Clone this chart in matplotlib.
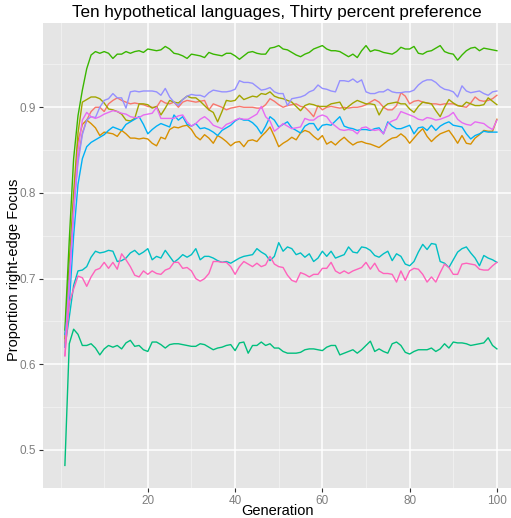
import matplotlib
matplotlib.use("Agg")
import matplotlib.pyplot as plt
import numpy as np

plt.rcParams['font.family'] = ['Liberation Sans', 'DejaVu Sans']

generations = list(range(1, 101))

lang_red = [0.625, 0.700, 0.780, 0.840, 0.870, 0.885, 0.895, 0.900, 0.900, 0.895,
            0.904, 0.908, 0.911, 0.908, 0.906, 0.904, 0.905, 0.904, 0.903, 0.901,
            0.900, 0.900, 0.908, 0.905, 0.904, 0.906, 0.900, 0.906, 0.908, 0.907,
            0.906, 0.907, 0.908, 0.897, 0.904, 0.902, 0.900, 0.897, 0.899, 0.900,
            0.901, 0.900, 0.900, 0.900, 0.899, 0.899, 0.903, 0.910, 0.907, 0.903,
            0.900, 0.902, 0.903, 0.904, 0.901, 0.900, 0.895, 0.889, 0.902, 0.897,
            0.900, 0.901, 0.900, 0.899, 0.900, 0.899, 0.900, 0.900, 0.901, 0.903,
            0.906, 0.909, 0.906, 0.900, 0.897, 0.897, 0.902, 0.917, 0.913, 0.904,
            0.907, 0.908, 0.906, 0.905, 0.904, 0.904, 0.903, 0.904, 0.904, 0.904,
            0.902, 0.901, 0.900, 0.905, 0.912, 0.908, 0.907, 0.908, 0.910, 0.914]

lang_orange = [0.620, 0.700, 0.790, 0.860, 0.880, 0.885, 0.881, 0.876, 0.867, 0.871,
               0.870, 0.869, 0.866, 0.873, 0.869, 0.864, 0.864, 0.863, 0.864, 0.863,
               0.858, 0.855, 0.865, 0.863, 0.874, 0.877, 0.876, 0.878, 0.879, 0.874,
               0.866, 0.862, 0.868, 0.864, 0.858, 0.867, 0.864, 0.860, 0.855, 0.859,
               0.860, 0.854, 0.861, 0.862, 0.860, 0.866, 0.871, 0.877, 0.866, 0.854,
               0.858, 0.861, 0.865, 0.862, 0.870, 0.873, 0.871, 0.866, 0.862, 0.867,
               0.857, 0.860, 0.856, 0.861, 0.865, 0.860, 0.856, 0.859, 0.860, 0.858,
               0.857, 0.855, 0.853, 0.857, 0.861, 0.864, 0.865, 0.869, 0.865, 0.858,
               0.864, 0.870, 0.875, 0.866, 0.860, 0.865, 0.869, 0.871, 0.873, 0.866,
               0.858, 0.867, 0.858, 0.857, 0.864, 0.868, 0.873, 0.872, 0.872, 0.886]

lang_olive = [0.630, 0.720, 0.800, 0.870, 0.906, 0.909, 0.912, 0.912, 0.910, 0.905,
              0.898, 0.897, 0.895, 0.892, 0.885, 0.884, 0.887, 0.904, 0.904, 0.903,
              0.899, 0.901, 0.891, 0.899, 0.908, 0.906, 0.905, 0.909, 0.913, 0.911,
              0.911, 0.907, 0.902, 0.897, 0.894, 0.883, 0.895, 0.908, 0.907, 0.908,
              0.914, 0.909, 0.911, 0.913, 0.912, 0.916, 0.915, 0.918, 0.913, 0.911,
              0.910, 0.908, 0.906, 0.901, 0.896, 0.902, 0.904, 0.903, 0.901, 0.901,
              0.901, 0.904, 0.905, 0.906, 0.897, 0.901, 0.905, 0.908, 0.906, 0.904,
              0.904, 0.903, 0.891, 0.900, 0.904, 0.905, 0.906, 0.904, 0.904, 0.898,
              0.894, 0.901, 0.906, 0.905, 0.904, 0.896, 0.889, 0.900, 0.909, 0.905,
              0.902, 0.901, 0.906, 0.904, 0.902, 0.902, 0.903, 0.911, 0.907, 0.903]

lang_green = [0.640, 0.745, 0.840, 0.890, 0.920, 0.945, 0.961, 0.965, 0.963, 0.965,
              0.963, 0.957, 0.962, 0.962, 0.965, 0.963, 0.965, 0.966, 0.964, 0.968,
              0.967, 0.966, 0.967, 0.971, 0.968, 0.963, 0.962, 0.960, 0.957, 0.962,
              0.961, 0.960, 0.958, 0.964, 0.962, 0.961, 0.960, 0.963, 0.963, 0.960,
              0.956, 0.960, 0.964, 0.965, 0.963, 0.962, 0.962, 0.969, 0.970, 0.972,
              0.968, 0.967, 0.964, 0.961, 0.959, 0.962, 0.964, 0.968, 0.970, 0.972,
              0.968, 0.966, 0.966, 0.965, 0.962, 0.959, 0.962, 0.958, 0.966, 0.972,
              0.965, 0.967, 0.966, 0.964, 0.963, 0.962, 0.965, 0.970, 0.968, 0.968,
              0.971, 0.963, 0.962, 0.965, 0.966, 0.969, 0.972, 0.965, 0.963, 0.962,
              0.955, 0.961, 0.966, 0.969, 0.970, 0.966, 0.969, 0.968, 0.967, 0.966]

lang_teal = [0.482, 0.624, 0.641, 0.635, 0.622, 0.622, 0.624, 0.619, 0.611, 0.618,
             0.622, 0.620, 0.622, 0.618, 0.625, 0.628, 0.621, 0.622, 0.617, 0.615,
             0.626, 0.626, 0.623, 0.619, 0.623, 0.624, 0.624, 0.623, 0.622, 0.621,
             0.621, 0.624, 0.623, 0.620, 0.617, 0.619, 0.620, 0.622, 0.623, 0.616,
             0.625, 0.626, 0.613, 0.622, 0.622, 0.626, 0.622, 0.624, 0.619, 0.619,
             0.615, 0.613, 0.613, 0.613, 0.614, 0.617, 0.618, 0.618, 0.617, 0.616,
             0.620, 0.622, 0.622, 0.611, 0.613, 0.615, 0.617, 0.613, 0.617, 0.622,
             0.627, 0.615, 0.618, 0.615, 0.613, 0.624, 0.626, 0.622, 0.614, 0.612,
             0.615, 0.617, 0.617, 0.617, 0.619, 0.615, 0.618, 0.624, 0.619, 0.626,
             0.625, 0.625, 0.624, 0.622, 0.623, 0.624, 0.625, 0.631, 0.622, 0.618]

lang_cyan = [0.620, 0.655, 0.692, 0.709, 0.710, 0.714, 0.725, 0.732, 0.730, 0.731,
             0.733, 0.732, 0.720, 0.721, 0.724, 0.730, 0.733, 0.728, 0.731, 0.735,
             0.722, 0.726, 0.724, 0.733, 0.726, 0.719, 0.723, 0.728, 0.725, 0.728,
             0.735, 0.722, 0.726, 0.726, 0.724, 0.721, 0.719, 0.720, 0.718, 0.721,
             0.724, 0.726, 0.727, 0.728, 0.735, 0.731, 0.728, 0.721, 0.726, 0.742,
             0.732, 0.737, 0.735, 0.728, 0.730, 0.725, 0.729, 0.720, 0.724, 0.732,
             0.726, 0.732, 0.724, 0.726, 0.728, 0.737, 0.731, 0.730, 0.737, 0.736,
             0.733, 0.727, 0.725, 0.729, 0.732, 0.721, 0.729, 0.726, 0.717, 0.715,
             0.720, 0.731, 0.740, 0.734, 0.741, 0.740, 0.720, 0.718, 0.713, 0.722,
             0.731, 0.735, 0.737, 0.730, 0.724, 0.715, 0.727, 0.724, 0.722, 0.719]

lang_blue = [0.635, 0.670, 0.750, 0.810, 0.840, 0.854, 0.859, 0.862, 0.865, 0.868,
             0.873, 0.877, 0.875, 0.873, 0.880, 0.883, 0.886, 0.889, 0.880, 0.869,
             0.874, 0.878, 0.881, 0.879, 0.877, 0.891, 0.885, 0.889, 0.880, 0.878,
             0.881, 0.875, 0.876, 0.874, 0.871, 0.867, 0.873, 0.876, 0.879, 0.884,
             0.887, 0.885, 0.885, 0.882, 0.877, 0.869, 0.878, 0.889, 0.885, 0.877,
             0.880, 0.883, 0.876, 0.873, 0.870, 0.878, 0.881, 0.881, 0.873, 0.879,
             0.880, 0.879, 0.884, 0.889, 0.878, 0.876, 0.875, 0.873, 0.874, 0.874,
             0.873, 0.875, 0.876, 0.869, 0.883, 0.878, 0.875, 0.875, 0.877, 0.879,
             0.869, 0.876, 0.877, 0.873, 0.879, 0.873, 0.878, 0.881, 0.883, 0.879,
             0.878, 0.877, 0.869, 0.863, 0.867, 0.869, 0.872, 0.871, 0.871, 0.871]

lang_lavender = [0.620, 0.700, 0.780, 0.835, 0.868, 0.885, 0.889, 0.888, 0.900, 0.908,
                 0.910, 0.916, 0.911, 0.911, 0.899, 0.918, 0.919, 0.918, 0.919, 0.919,
                 0.919, 0.918, 0.914, 0.922, 0.912, 0.906, 0.902, 0.909, 0.913, 0.915,
                 0.914, 0.914, 0.912, 0.917, 0.920, 0.919, 0.918, 0.918, 0.919, 0.921,
                 0.931, 0.929, 0.929, 0.928, 0.924, 0.920, 0.921, 0.923, 0.918, 0.916,
                 0.916, 0.902, 0.910, 0.911, 0.912, 0.914, 0.918, 0.920, 0.926, 0.922,
                 0.921, 0.919, 0.918, 0.931, 0.931, 0.930, 0.933, 0.929, 0.932, 0.918,
                 0.916, 0.916, 0.918, 0.918, 0.921, 0.918, 0.917, 0.917, 0.918, 0.918,
                 0.920, 0.926, 0.930, 0.932, 0.932, 0.929, 0.924, 0.921, 0.920, 0.918,
                 0.912, 0.925, 0.919, 0.917, 0.918, 0.919, 0.916, 0.914, 0.918, 0.919]

lang_magenta = [0.610, 0.690, 0.780, 0.850, 0.885, 0.894, 0.889, 0.887, 0.889, 0.892,
                0.894, 0.896, 0.895, 0.893, 0.892, 0.889, 0.888, 0.888, 0.891, 0.892,
                0.893, 0.900, 0.887, 0.887, 0.887, 0.887, 0.890, 0.891, 0.883, 0.878,
                0.881, 0.886, 0.889, 0.885, 0.879, 0.877, 0.875, 0.880, 0.882, 0.885,
                0.887, 0.886, 0.886, 0.889, 0.892, 0.901, 0.889, 0.884, 0.872, 0.876,
                0.881, 0.878, 0.875, 0.876, 0.877, 0.887, 0.885, 0.885, 0.889, 0.891,
                0.889, 0.882, 0.878, 0.874, 0.873, 0.874, 0.873, 0.869, 0.876, 0.877,
                0.874, 0.873, 0.874, 0.869, 0.881, 0.884, 0.886, 0.895, 0.893, 0.891,
                0.889, 0.886, 0.885, 0.888, 0.887, 0.885, 0.886, 0.888, 0.890, 0.894,
                0.886, 0.882, 0.880, 0.879, 0.883, 0.882, 0.881, 0.877, 0.874, 0.885]

lang_pink = [0.610, 0.672, 0.688, 0.703, 0.701, 0.691, 0.702, 0.710, 0.712, 0.719,
             0.712, 0.719, 0.711, 0.729, 0.722, 0.714, 0.704, 0.702, 0.709, 0.705,
             0.709, 0.706, 0.705, 0.710, 0.712, 0.719, 0.719, 0.712, 0.713, 0.709,
             0.700, 0.697, 0.700, 0.706, 0.720, 0.720, 0.719, 0.719, 0.714, 0.705,
             0.714, 0.720, 0.717, 0.714, 0.718, 0.714, 0.716, 0.726, 0.717, 0.714,
             0.713, 0.704, 0.698, 0.696, 0.707, 0.705, 0.702, 0.705, 0.705, 0.712,
             0.712, 0.719, 0.709, 0.706, 0.709, 0.706, 0.709, 0.711, 0.713, 0.719,
             0.711, 0.718, 0.709, 0.706, 0.706, 0.705, 0.696, 0.709, 0.698, 0.709,
             0.712, 0.711, 0.705, 0.696, 0.702, 0.696, 0.707, 0.717, 0.713, 0.705,
             0.705, 0.717, 0.718, 0.717, 0.716, 0.711, 0.710, 0.710, 0.715, 0.719]

series = [lang_red, lang_orange, lang_olive, lang_green, lang_teal,
          lang_cyan, lang_blue, lang_lavender, lang_magenta, lang_pink]
colors = ["#F8766D", "#D89000", "#A3A500", "#39B600", "#00BF7D",
          "#00BFC4", "#00B0F6", "#9590FF", "#E76BF3", "#FF62BC"]

x_ticks = [20, 40, 60, 80, 100]
y_ticks = [0.5, 0.6, 0.7, 0.8, 0.9]
x_minor = [0, 10, 30, 50, 70, 90]
y_minor = [0.55, 0.65, 0.75, 0.85, 0.95]

W, H = 511, 518
fig = plt.figure(figsize=(W / 100, H / 100), dpi=100)
left, right, top, bottom = 43.3, 511, 22.7, 488.3
ax = fig.add_axes([left / W, (H - bottom) / H, (right - left) / W, (bottom - top) / H])
ax.set_facecolor("#E5E5E5")
for s in ax.spines.values():
    s.set_visible(False)

ax.set_xlim(-3.95, 103.23)
ax.set_ylim(0.4553, 0.9987)

for v in x_minor:
    ax.axvline(v, color="#F2F2F2", lw=0.6, zorder=0.5)
for v in y_minor:
    ax.axhline(v, color="#F2F2F2", lw=0.6, zorder=0.5)
for v in x_ticks:
    ax.axvline(v, color="white", lw=1.1, zorder=0.6)
for v in y_ticks:
    ax.axhline(v, color="white", lw=1.1, zorder=0.6)

for vals, c in zip(series, colors):
    ax.plot(generations, vals, color=c, lw=1.0, zorder=2)

ax.set_xticks(x_ticks)
ax.set_xticklabels([str(t) for t in x_ticks])
ax.set_yticks(y_ticks)
ax.set_yticklabels([f"{t:.1f}" for t in y_ticks])
ax.tick_params(axis="both", direction="out", length=3, width=0.8, color="#333333",
               labelcolor="#7F7F7F", labelsize=8.5, pad=2)

fig.text(277 / W, 1 - 511 / H, "Generation", ha="center", va="center",
         fontsize=10.5, color="black")
fig.text(14 / W, 1 - 270 / H, "Proportion right-edge Focus", ha="center", va="center",
         rotation=90, fontsize=10.5, color="black")
fig.text(277 / W, 1 - 13 / H, "Ten hypothetical languages, Thirty percent preference",
         ha="center", va="center", fontsize=12.3, color="black")

fig.savefig("out.png", dpi=100)
